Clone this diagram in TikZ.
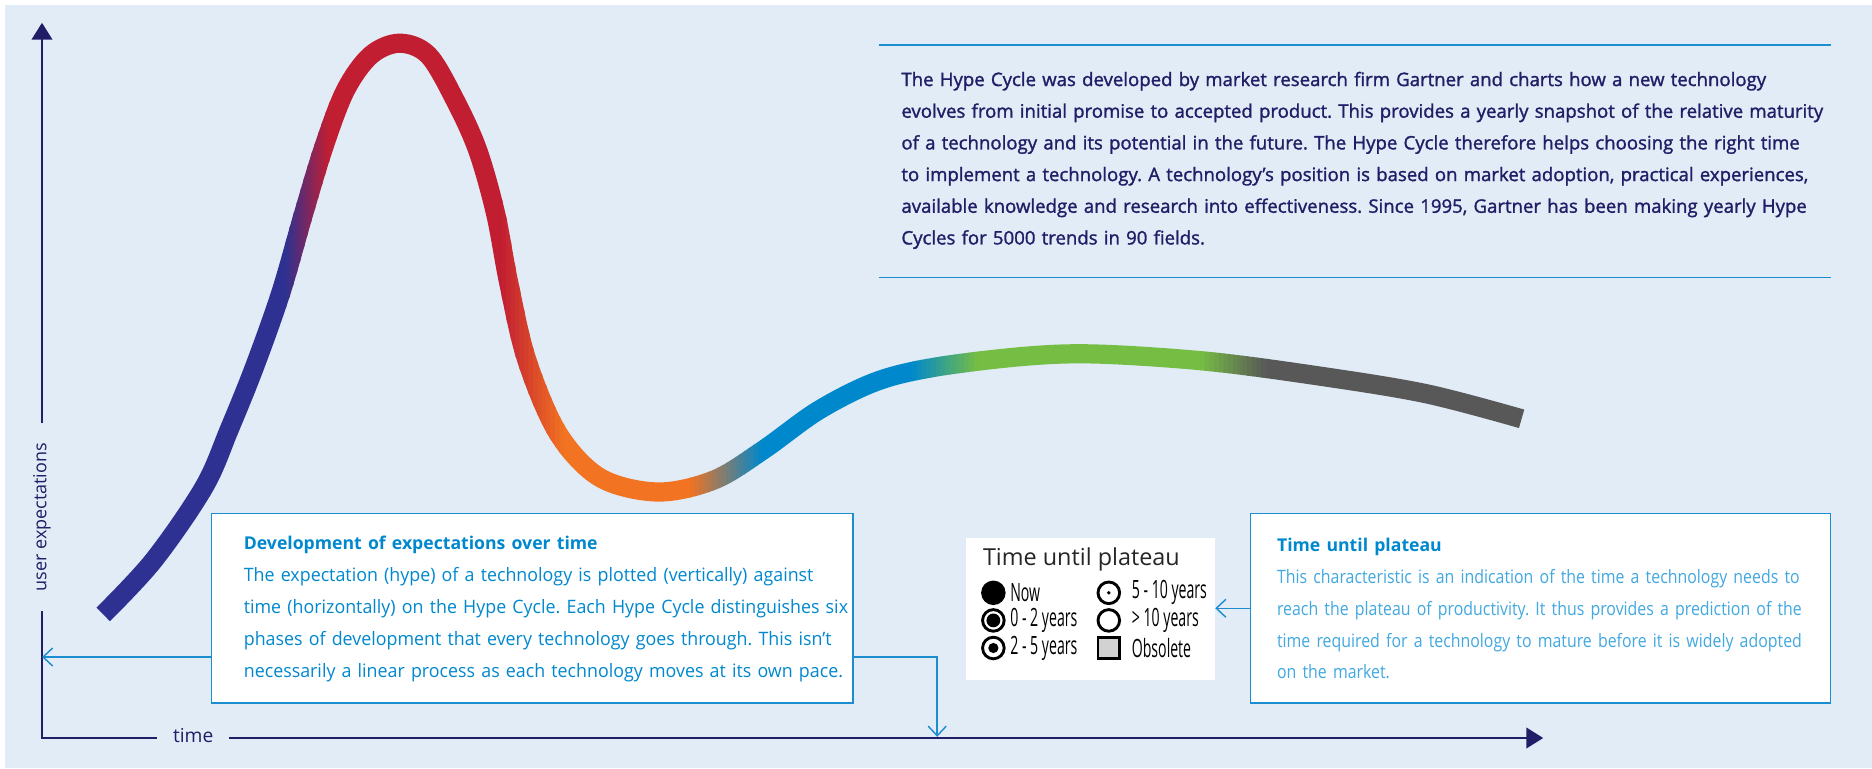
\documentclass[tikz,border=0pt]{standalone}
\usepackage{fontspec}
\setmainfont{Open Sans}
\newfontfamily\semifont[FakeBold=1.4]{Open Sans}
\newfontfamily\bodyfont[FakeStretch=0.965]{Open Sans}
\newfontfamily\thinfont[FakeStretch=0.86]{Open Sans}
\newfontfamily\condfont[FakeStretch=0.56]{Open Sans}
\frenchspacing
\usepackage{tikz}
\usetikzlibrary{positioning}
\usetikzlibrary{arrows.meta}
\definecolor{bgblue}{RGB}{225,236,247}
\definecolor{navy}{RGB}{33,29,102}
\definecolor{hblue}{RGB}{46,49,146}
\definecolor{hred}{RGB}{193,30,50}
\definecolor{horange}{RGB}{242,115,33}
\definecolor{hsky}{RGB}{0,136,204}
\definecolor{hgreen}{RGB}{118,190,67}
\definecolor{hgrey}{RGB}{88,88,88}
\definecolor{boxblue}{RGB}{28,142,208}
\definecolor{textblue}{RGB}{0,136,206}
\definecolor{paleblue}{RGB}{66,168,224}
\definecolor{obsgrey}{RGB}{210,210,210}

\newcommand{\hypecurve}{plot[smooth, tension=0.55] coordinates {(86,512) (128,467) (170,406) (191,358) (212,306) (234,244) (253,178) (270,122) (288,75) (309,46) (333,36) (357,46) (379,83) (398,125) (413,178) (424,236) (439,300) (465,361) (500,398) (548,410) (595,400) (636,375) (682,342) (730,318) (779,306) (853,297) (913,295) (1005,301) (1097,313) (1188,328) (1268,349)}}

\begin{document}
\begin{tikzpicture}[x=1pt, y=-1pt,
    hype/.style={line width=16pt},
    axis/.style={navy, line width=2pt},
    axistip/.style={-{Triangle[length=14pt, width=17pt]}},
    link/.style={boxblue, line width=1.2pt, -{Straight Barb[length=8pt, width=15pt]}},
    infobox/.style={draw=boxblue, line width=1.3pt, fill=white, inner sep=0pt},
    ring/.style={circle, draw=black, line width=2.4pt, fill=white, minimum size=18pt, inner sep=0pt},
    dot/.style={circle, fill=black, inner sep=0pt},
    legtext/.style={anchor=west, inner sep=0pt, font=\condfont\fontsize{21}{22}\selectfont}]
\useasboundingbox (0,0) rectangle (1560,640);
\fill[bgblue] (4.2,4.2) rectangle (1560,640);

\coordinate (origin) at (35,615);
\coordinate (ytip) at (35,19);
\coordinate (xtip) at (1286,615);
\node[rotate=90, inner xsep=16.5pt, inner ysep=0pt, navy, font=\fontsize{15}{18}\selectfont] (ylabel) at (35,431) {user expectations};
\node[inner xsep=13pt, inner ysep=0pt, navy, font=\fontsize{16}{18}\selectfont] (tlabel) at (161,613) {time};
\draw[axis] (origin |- ylabel.west) -- (origin) -- (origin -| tlabel.west);
\draw[axis, axistip] (origin |- ylabel.east) -- (ytip);
\draw[axis, axistip] (origin -| tlabel.east) -- (xtip);

\foreach \xa/\xb/\ca/\cb/\n in {0/238/hblue/hblue/1, 238/274/hblue/hred/12, 274/418/hred/hred/1, 418/470/hred/horange/14, 470/575/horange/horange/1, 575/635/horange/hsky/16, 635/760/hsky/hsky/1, 760/815/hsky/hgreen/14, 815/1000/hgreen/hgreen/1, 1000/1055/hgreen/hgrey/14, 1055/1300/hgrey/hgrey/1}{
  \foreach \i in {1,...,\n}{
    \pgfmathsetmacro\stripl{\xa+(\xb-\xa)*(\i-1)/\n}
    \pgfmathsetmacro\stripr{\xa+(\xb-\xa)*\i/\n+0.8}
    \pgfmathsetmacro\mixpct{100*(\i-0.5)/\n}
    \begin{scope}
      \clip (\stripl,0) rectangle (\stripr,640);
      \draw[hype, draw=\cb!\mixpct!\ca] \hypecurve;
    \end{scope}
  }
}

\draw[boxblue, line width=1.2pt] (732.6,37.5) -- (1526,37.5);
\draw[boxblue, line width=1.2pt] (732.6,231.4) -- (1526,231.4);
\node[anchor=base west, inner sep=0pt, text width=820pt, align=left, navy, font=\semifont\fontsize{15.5}{26.4}\selectfont] (about) at (751,71.7) {The Hype Cycle was developed by market research firm Gartner and charts how a new technology\\
evolves from initial promise to accepted product. This provides a yearly snapshot of the relative maturity\\
of a technology and its potential in the future. The Hype Cycle therefore helps choosing the right time\\
to implement a technology. A technology’s position is based on market adoption, practical experiences,\\
available knowledge and research into effectiveness. Since 1995, Gartner has been making yearly Hype\\
Cycles for 5000 trends in 90 fields.};

\node[infobox, minimum width=534.2pt, minimum height=158.2pt] (devbox) at (443.5,506.9) {};
\node[anchor=base west, inner sep=0pt, text width=520pt, align=left, textblue, font=\bodyfont\fontsize{15.4}{26.5}\selectfont] (devtext) at (203,458.3) {{\rmfamily\bfseries\fontsize{14.7}{26.5}\selectfont Development of expectations over time}\\
The expectation (hype) of a technology is plotted (vertically) against\\
time (horizontally) on the Hype Cycle. Each Hype Cycle distinguishes six\\
phases of development that every technology goes through. This isn’t\\
necessarily a linear process as each technology moves at its own pace.};

\node[infobox, minimum width=483.5pt, minimum height=158.2pt] (platbox) at (1283.75,506.9) {};
\node[anchor=base west, inner sep=0pt, text width=470pt, align=left, paleblue, font=\thinfont\fontsize{15.4}{26.5}\selectfont] (plattext) at (1064,459.7) {{\rmfamily\bfseries\color{textblue}\fontsize{14.7}{26.5}\selectfont Time until plateau}\\
This characteristic is an indication of the time a technology needs to\\
reach the plateau of productivity. It thus provides a prediction of the\\
time required for a technology to mature before it is widely adopted\\
on the market.};

\node[fill=white, minimum width=207.5pt, minimum height=118pt, inner sep=0pt] (legend) at (908.75,507.65) {};
\node[anchor=base west, inner sep=0pt, black!85, font=\fontsize{19.5}{20}\selectfont] (legtitle) at (819,471) {Time until plateau};
\node[circle, fill=black, minimum size=20.4pt, inner sep=0pt] (now) at (827.8,494) {};
\node[ring] (twoyr) at (827.8,517) {};
\node[dot, minimum size=11.5pt] (twoyrdot) at (twoyr) {};
\node[ring] (fiveyr) at (827.8,540) {};
\node[dot, minimum size=8.5pt] (fiveyrdot) at (fiveyr) {};
\node[ring] (tenyr) at (924,494) {};
\node[dot, minimum size=3.2pt] (tenyrdot) at (tenyr) {};
\node[ring] (overten) at (924,517) {};
\node[rectangle, draw=black, line width=2.4pt, fill=obsgrey, minimum size=18pt, inner sep=0pt] (obsolete) at (924,540) {};
\node[legtext] (nowtext) at (841.7,494) {Now};
\node[legtext] (twoyrtext) at (841.7,517) {0 - 2 years};
\node[legtext] (fiveyrtext) at (841.7,540) {2 - 5 years};
\node[legtext] (tenyrtext) at (943,494) {5 - 10 years};
\node[legtext] (overtentext) at (943,517) {> 10 years};
\node[legtext] (obsoletetext) at (943,540) {Obsolete};

\coordinate (devout) at ([yshift=-40.6pt]devbox.west);
\coordinate (devright) at ([yshift=-40.6pt]devbox.east);
\coordinate (timehit) at (781,614);
\draw[link] (devout) -- (devout -| origin);
\draw[link] (devright) -| (timehit);
\draw[link] (platbox.west) -- (platbox.west -| legend.east);
\end{tikzpicture}
\end{document}
